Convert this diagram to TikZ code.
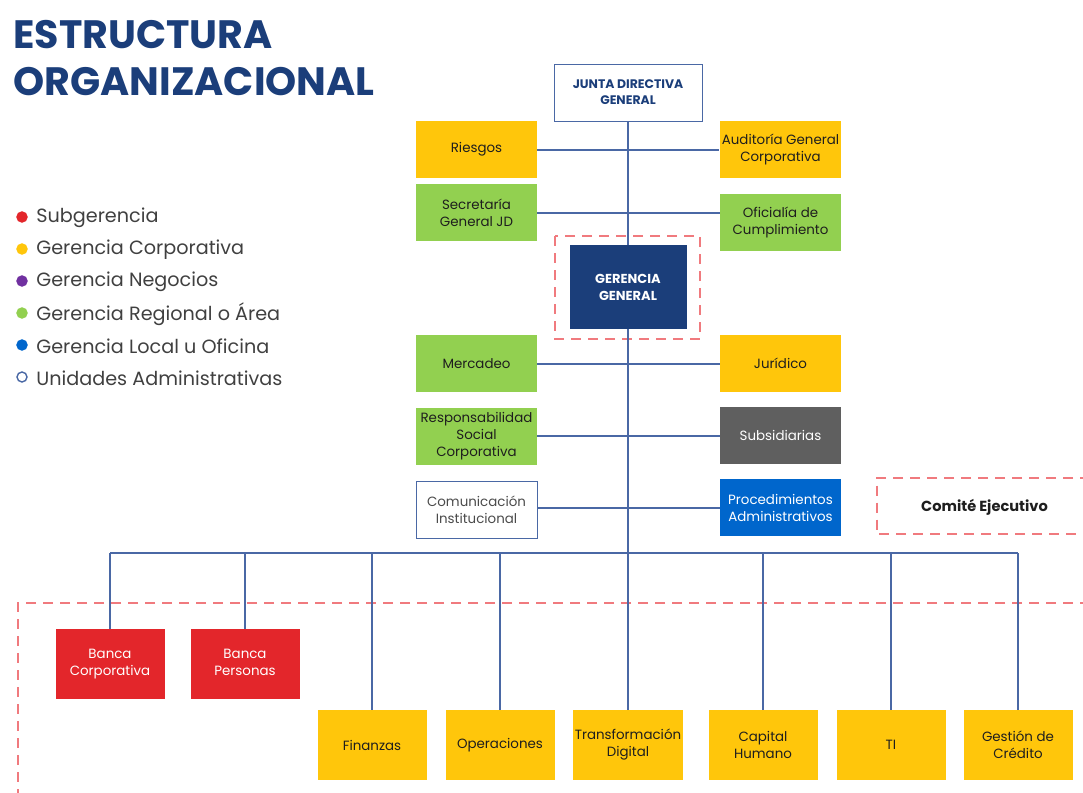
\documentclass[tikz,border=0pt]{standalone}
\usepackage{fontspec}
\setmainfont{Poppins}
\usepackage{xcolor}
\usepackage{tikz}
\definecolor{navy}{HTML}{1B3E7A}
\definecolor{amarillo}{HTML}{FFC60B}
\definecolor{verde}{HTML}{92D050}
\definecolor{rojo}{HTML}{E3262B}
\definecolor{azul}{HTML}{0066CC}
\definecolor{gris}{HTML}{5F5F5F}
\definecolor{morado}{HTML}{7030A0}
\definecolor{linea}{HTML}{4A68A5}
\definecolor{rosa}{HTML}{F07A7E}
\definecolor{texto}{HTML}{1E1E1E}

\begin{document}
\begin{tikzpicture}[x=0.5pt,y=-0.5pt,
	caja/.style={rectangle, minimum width=60.5pt, minimum height=28.5pt, inner sep=1pt, align=center, text=texto, font=\fontsize{6.7}{8.5}\selectfont},
	cajab/.style={caja, minimum width=54.5pt, minimum height=35pt},
	conector/.style={draw=linea, line width=1pt},
	marco/.style={draw=rosa, line width=1pt, dash pattern=on 5pt off 3.5pt}]
				\useasboundingbox (0,0) rectangle (1083,793);
				\node[anchor=base west, inner sep=0, text=navy, font=\fontsize{19.8}{22}\selectfont\bfseries] (titulo) at (13,48) {ESTRUCTURA};
				\node[anchor=base west, inner sep=0, text=navy, font=\fontsize{19.8}{22}\selectfont\bfseries] (titulob) at (13,95) {ORGANIZACIONAL};
				\foreach \c/\f/\t [count=\i from 0] in {rojo/rojo/Subgerencia, amarillo/amarillo/Gerencia Corporativa, morado/morado/Gerencia Negocios, verde/verde/Gerencia Regional o Área, azul/azul/Gerencia Local u Oficina, linea/white/Unidades Administrativas} {
					\node[circle, draw=\c, fill=\f, line width=0.7pt, minimum size=5pt, inner sep=0] (punto\i) at (22,217+\i*32) {};
					\node[anchor=west, inner sep=0, text=texto!85, font=\fontsize{9.6}{12}\selectfont] (leyenda\i) at (36,218+\i*32) {\t};
				}
				\draw[marco] (555,236) rectangle (700,339);
				\node[caja, draw=linea, fill=white, minimum width=74pt, text=navy, font=\fontsize{6.2}{8}\selectfont\bfseries] (junta) at (628,92.5) {JUNTA DIRECTIVA\\GENERAL};
				\node[caja, fill=amarillo] (riesgos) at (476.5,149.5) {Riesgos};
				\node[caja, fill=amarillo] (auditoria) at (780.5,149.5) {Auditoría General\\Corporativa};
				\node[caja, fill=verde] (secretaria) at (476.5,212.5) {Secretaría\\General JD};
				\node[caja, fill=verde] (oficialia) at (780.5,222.5) {Oficialía de\\Cumplimiento};
				\node[caja, fill=navy, minimum width=58.5pt, minimum height=42pt, text=white, font=\fontsize{6.5}{8.5}\selectfont\bfseries] (gerencia) at (628,287) {GERENCIA\\GENERAL};
				\node[caja, fill=verde] (mercadeo) at (476.5,363.5) {Mercadeo};
				\node[caja, fill=amarillo] (juridico) at (780.5,363.5) {Jurídico};
				\node[caja, fill=verde] (rsc) at (476.5,436) {Responsabilidad\\Social\\Corporativa};
				\node[caja, fill=gris, text=white] (subsidiarias) at (780.5,435.5) {Subsidiarias};
				\node[caja, draw=linea, fill=white, text=texto!80] (comunicacion) at (476.5,509.5) {Comunicación\\Institucional};
				\node[caja, fill=azul, text=white] (procedimientos) at (780.5,507.5) {Procedimientos\\Administrativos};
				\draw[marco] (1090,478) -| (876.5,534) -- (1090,534);
				\node[font=\fontsize{7.3}{9}\selectfont\bfseries, text=texto] (comite) at (984.5,507) {Comité Ejecutivo};
				\draw[marco] (1090,603) -- (18,603) -- (18,800);
				\node[cajab, fill=rojo, text=white] (bancacorp) at (110,664) {Banca\\Corporativa};
				\node[cajab, fill=rojo, text=white] (bancapers) at (245,664) {Banca\\Persona\vphantom{p}s};
				\foreach \n/\x/\t in {finanzas/372/Finanzas, operaciones/500/Operaciones, transformacion/628/Transformación\\Digital, capital/763/Capital\\Humano, ti/891/TI, credito/1018/Gestión de\\Crédito} {
					\node[cajab, fill=amarillo] (\n) at (\x,745) {\t};
				}
				\coordinate (bus) at (628,553);
				\draw[conector] (junta) -- (gerencia);
				\draw[conector] (gerencia) -- (bus);
				\draw[conector] (bancacorp |- bus) -- (credito |- bus);
				\foreach \n in {bancacorp,bancapers,finanzas,operaciones,transformacion,capital,ti,credito} {
					\draw[conector] (\n |- bus) -- (\n.north);
				}
				\draw[conector] (riesgos) -- (auditoria);
				\draw[conector] (secretaria.east) -- (secretaria.east -| oficialia.west);
				\draw[conector] (mercadeo) -- (juridico);
				\draw[conector] (rsc.east) -- (rsc.east -| subsidiarias.west);
				\draw[conector] (procedimientos.west -| comunicacion.east) -- (procedimientos.west);
\end{tikzpicture}
\end{document}
